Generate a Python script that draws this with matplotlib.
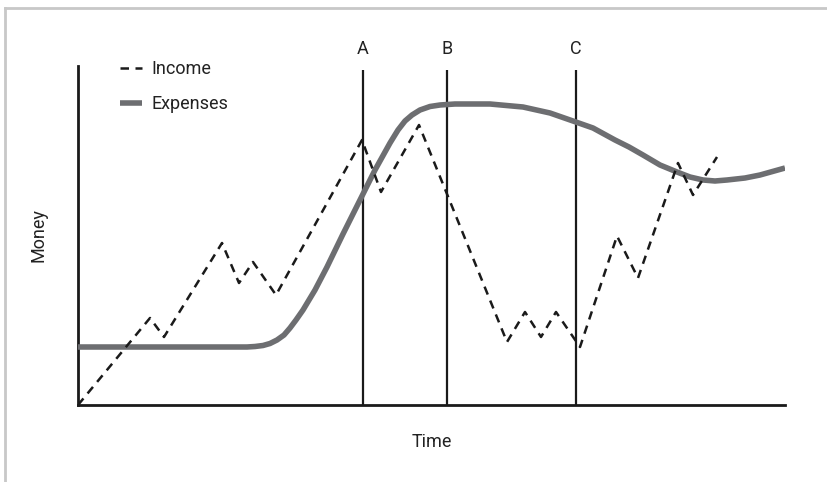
import matplotlib
matplotlib.use("Agg")
import matplotlib.pyplot as plt
from matplotlib.lines import Line2D

# ---- data (time / money units, origin at the axes corner) ----
income_x = [0, 72, 86, 144, 161, 175, 198, 284, 303, 341, 429, 447, 463, 478, 502, 539, 560, 600, 615, 639]
income_y = [0, 87, 68, 162, 122, 143, 110, 265, 213, 280, 63, 93, 68, 93, 58, 169, 127, 242, 210, 248]

expense_x = [0, 169, 177, 185, 192, 199, 206, 212, 218, 225, 237, 249, 265, 282, 297, 312, 320, 327, 334,
             342, 352, 362, 377, 412, 445, 472, 495, 515, 526, 537, 551, 565, 582, 599, 612, 625, 637,
             649, 667, 682, 707]
expense_y = [58, 58, 58.5, 59.5, 61.5, 65, 70, 77, 85, 95, 115, 138, 171, 205, 235, 262, 275, 284, 290,
             295, 298.5, 300, 301, 301, 298, 292, 284, 277, 271, 265, 258, 250, 240, 233, 228, 225, 224,
             225, 227, 230, 237]

markers_x = [285, 369, 498]
markers_lbl = ["A", "B", "C"]

plt.rcParams['font.family'] = ['Roboto', 'DejaVu Sans']
FS = 13

W, H = 827, 482
fig = plt.figure(figsize=(W / 100, H / 100), dpi=100)
ax = fig.add_axes([78 / W, (H - 405) / H, 707 / W, (405 - 66) / H])

ax.set_xlim(0, 707)
ax.set_ylim(0, 339)

ax.plot(expense_x, expense_y, color='#6d6e71', lw=4.0, solid_capstyle='butt',
        solid_joinstyle='round', label='Expenses', zorder=3)
ax.plot(income_x, income_y, color='#1a1a1a', lw=1.8, linestyle=(0, (3.4, 2.6)),
        label='Income', zorder=4)

ax.vlines(markers_x, 0, 335, color='#1a1a1a', lw=1.6, zorder=2)
for mx, lbl in zip(markers_x, markers_lbl):
    ax.text(mx, 356, lbl, ha='center', va='center', fontsize=FS, color='#222222', clip_on=False)

for s in ['top', 'right']:
    ax.spines[s].set_visible(False)
for s in ['left', 'bottom']:
    ax.spines[s].set_linewidth(2.0)
    ax.spines[s].set_color('#1a1a1a')
ax.set_xticks([])
ax.set_yticks([])

ax.set_xlabel('Time', fontsize=FS, color='#222222', labelpad=20)
ax.set_ylabel('Money', fontsize=FS, color='#222222', labelpad=22)

handles, labels = ax.get_legend_handles_labels()
order = [1, 0]
leg = ax.legend([handles[i] for i in order], [labels[i] for i in order],
                frameon=False, fontsize=FS, handlelength=1.2, handletextpad=0.55,
                labelspacing=0.95, loc='upper left',
                bbox_to_anchor=(120 / W, (H - 60) / H), bbox_transform=fig.transFigure,
                borderaxespad=0, borderpad=0)
for t in leg.get_texts():
    t.set_color('#222222')

# light frame around the picture
fig.add_artist(Line2D([5 / W, 1], [1 - 8 / H, 1 - 8 / H], transform=fig.transFigure,
                      color='#c8c8c8', lw=2))
fig.add_artist(Line2D([5 / W, 5 / W], [0, 1 - 8 / H], transform=fig.transFigure,
                      color='#c8c8c8', lw=2))

fig.savefig('out.png', dpi=100)
